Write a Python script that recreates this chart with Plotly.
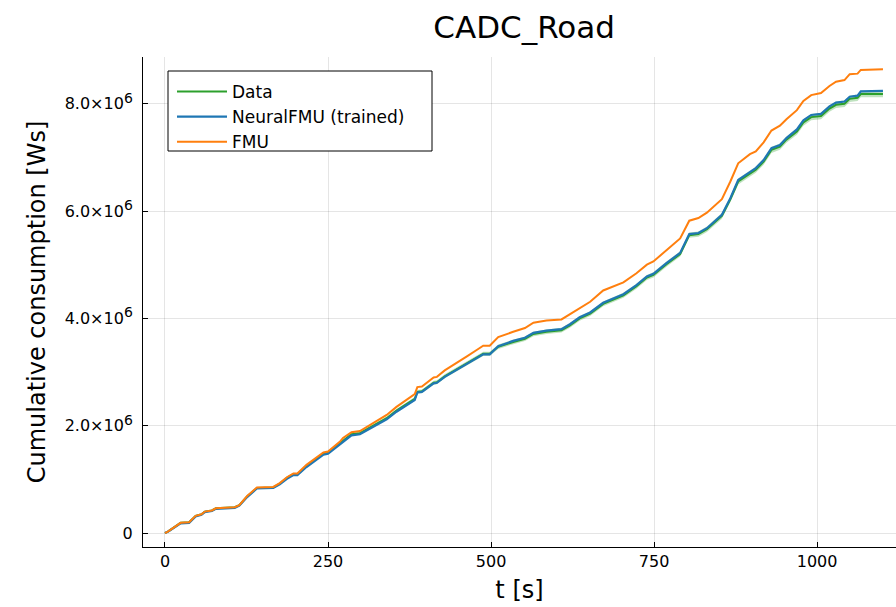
import plotly.graph_objects as go

# time knots [s]
t = [0, 5, 24, 37, 47, 56, 61, 72, 78, 89, 107, 114, 126, 141, 166, 176, 187, 197, 203, 217,
     230, 243, 250, 268, 273, 286, 299, 319, 340, 355, 371, 383, 387, 394, 412, 417, 429, 447,
     463, 478, 488, 498, 511, 534, 552, 565, 585, 608, 621, 636, 652, 672, 688, 703, 723, 739,
     749, 769, 790, 804, 818, 831, 854, 867, 879, 897, 906, 918, 930, 943, 953, 969, 979, 991,
     1006, 1019, 1029, 1042, 1050, 1062, 1067, 1101]

# values in units of 1e6 Ws
fmu = [0, 0.03, 0.19, 0.20, 0.32, 0.35, 0.40, 0.42, 0.46, 0.47, 0.48, 0.52, 0.69, 0.85, 0.86, 0.93,
       1.04, 1.11, 1.11, 1.27, 1.39, 1.50, 1.52, 1.70, 1.77, 1.88, 1.90, 2.04, 2.20, 2.35, 2.48,
       2.59, 2.72, 2.73, 2.90, 2.91, 3.03, 3.16, 3.29, 3.41, 3.49, 3.49, 3.65, 3.75, 3.82, 3.92,
       3.96, 3.98, 4.08, 4.20, 4.31, 4.52, 4.59, 4.67, 4.84, 5.00, 5.06, 5.27, 5.49, 5.82, 5.87,
       5.97, 6.22, 6.55, 6.89, 7.06, 7.11, 7.28, 7.50, 7.59, 7.71, 7.88, 8.05, 8.16, 8.20, 8.33,
       8.41, 8.44, 8.55, 8.56, 8.63, 8.64]

neural = [0, 0.03, 0.18, 0.19, 0.31, 0.34, 0.39, 0.41, 0.45, 0.46, 0.47, 0.51, 0.67, 0.83, 0.84, 0.91,
          1.01, 1.08, 1.08, 1.23, 1.35, 1.46, 1.48, 1.65, 1.71, 1.82, 1.84, 1.97, 2.12, 2.26, 2.38,
          2.48, 2.62, 2.63, 2.79, 2.80, 2.91, 3.04, 3.15, 3.27, 3.33, 3.33, 3.48, 3.58, 3.64, 3.73,
          3.77, 3.80, 3.89, 4.02, 4.11, 4.29, 4.37, 4.45, 4.62, 4.78, 4.83, 5.03, 5.22, 5.57, 5.59,
          5.68, 5.93, 6.24, 6.58, 6.73, 6.80, 6.95, 7.17, 7.23, 7.36, 7.52, 7.69, 7.79, 7.81, 7.95,
          8.02, 8.04, 8.13, 8.15, 8.23, 8.24]

data = [0, 0.03, 0.19, 0.20, 0.32, 0.35, 0.40, 0.42, 0.46, 0.47, 0.48, 0.52, 0.68, 0.84, 0.85, 0.92,
        1.03, 1.10, 1.10, 1.25, 1.37, 1.48, 1.50, 1.67, 1.73, 1.84, 1.86, 1.99, 2.14, 2.28, 2.40,
        2.50, 2.63, 2.64, 2.80, 2.81, 2.92, 3.05, 3.16, 3.28, 3.34, 3.34, 3.47, 3.56, 3.62, 3.71,
        3.75, 3.78, 3.87, 4.00, 4.09, 4.27, 4.35, 4.43, 4.60, 4.76, 4.81, 5.01, 5.20, 5.55, 5.57,
        5.66, 5.91, 6.22, 6.55, 6.70, 6.77, 6.92, 7.14, 7.20, 7.33, 7.48, 7.65, 7.75, 7.77, 7.91,
        7.98, 8.00, 8.09, 8.11, 8.18, 8.18]

# half-width of the data ribbon, 1e6 Ws
data_band = [0.0, 0.0, 0.005, 0.005, 0.008, 0.008, 0.01, 0.01, 0.01, 0.01, 0.01, 0.01, 0.013, 0.015,
             0.015, 0.016, 0.018, 0.019, 0.019, 0.021, 0.023, 0.025, 0.025, 0.027, 0.028, 0.029,
             0.029, 0.03, 0.031, 0.032, 0.033, 0.034, 0.035, 0.035, 0.036, 0.036, 0.037, 0.038,
             0.039, 0.04, 0.04, 0.04, 0.041, 0.041, 0.042, 0.042, 0.042, 0.043, 0.043, 0.044,
             0.044, 0.045, 0.045, 0.046, 0.046, 0.047, 0.047, 0.048, 0.049, 0.05, 0.05, 0.051,
             0.052, 0.053, 0.054, 0.055, 0.055, 0.056, 0.057, 0.057, 0.058, 0.058, 0.059, 0.06,
             0.06, 0.06, 0.06, 0.06, 0.06, 0.06, 0.06, 0.06]

y_tickvals = [0, 2, 4, 6, 8]
y_ticktext = ["0"] + [f"{v:.1f}×10<sup><span style='font-size:14px'>6</span></sup>" for v in [2, 4, 6, 8]]
x_tickvals = [0, 250, 500, 750, 1000]

SCALE = 1e6
GREEN, BLUE, ORANGE = "#2ca02c", "#1f77b4", "#ff7f0e"

upper = [(d + b) * SCALE for d, b in zip(data, data_band)]
lower = [(d - b) * SCALE for d, b in zip(data, data_band)]

fig = go.Figure()
fig.add_trace(go.Scatter(x=t, y=upper, mode="lines", line=dict(width=0), showlegend=False, hoverinfo="skip"))
fig.add_trace(go.Scatter(x=t, y=lower, mode="lines", line=dict(width=0), fill="tonexty",
                         fillcolor="rgba(44,160,44,0.3)", showlegend=False, hoverinfo="skip"))
fig.add_trace(go.Scatter(x=t, y=[v * SCALE for v in data], mode="lines", name="Data",
                         line=dict(color=GREEN, width=2)))
fig.add_trace(go.Scatter(x=t, y=[v * SCALE for v in neural], mode="lines", name="NeuralFMU (trained)",
                         line=dict(color=BLUE, width=2.2)))
fig.add_trace(go.Scatter(x=t, y=[v * SCALE for v in fmu], mode="lines", name="FMU",
                         line=dict(color=ORANGE, width=2)))

axis_common = dict(showline=True, linecolor="black", linewidth=1, mirror=False,
                   ticks="inside", ticklen=5, tickcolor="black",
                   showgrid=True, gridcolor="rgba(0,0,0,0.1)", gridwidth=1, zeroline=False,
                   tickfont=dict(size=16, color="black"))

# legend frame (paper coordinates)
fig.add_shape(type="rect", xref="paper", yref="paper",
              x0=(168 - 143) / 753, x1=(432 - 143) / 753,
              y0=(547 - 151) / 490, y1=(547 - 71) / 490,
              line=dict(color="black", width=1), fillcolor="white", layer="above")

fig.update_layout(
    width=896, height=607,
    margin=dict(l=143, r=0, t=57, b=60),
    paper_bgcolor="white", plot_bgcolor="white",
    font=dict(family="DejaVu Sans", color="black"),
    title=dict(text="CADC_Road", x=0.585, xanchor="center", y=0.955, yanchor="middle",
               font=dict(size=31)),
    xaxis=dict(range=[-33.7, 1121], tickvals=x_tickvals,
               title=dict(text="t [s]", font=dict(size=24), standoff=10), **axis_common),
    yaxis=dict(range=[-0.26 * SCALE, 8.87 * SCALE], tickvals=[v * SCALE for v in y_tickvals],
               ticktext=y_ticktext, ticklabelstandoff=6,
               title=dict(text="Cumulative consumption [Ws]", font=dict(size=24), standoff=12),
               **axis_common),
    legend=dict(x=(172 - 143) / 753, y=(547 - 74) / 490, xanchor="left", yanchor="top",
                borderwidth=0, bgcolor="rgba(0,0,0,0)", font=dict(size=17),
                traceorder="normal", tracegroupgap=0, itemwidth=50),
    showlegend=True,
)

fig.write_html("out.html")
